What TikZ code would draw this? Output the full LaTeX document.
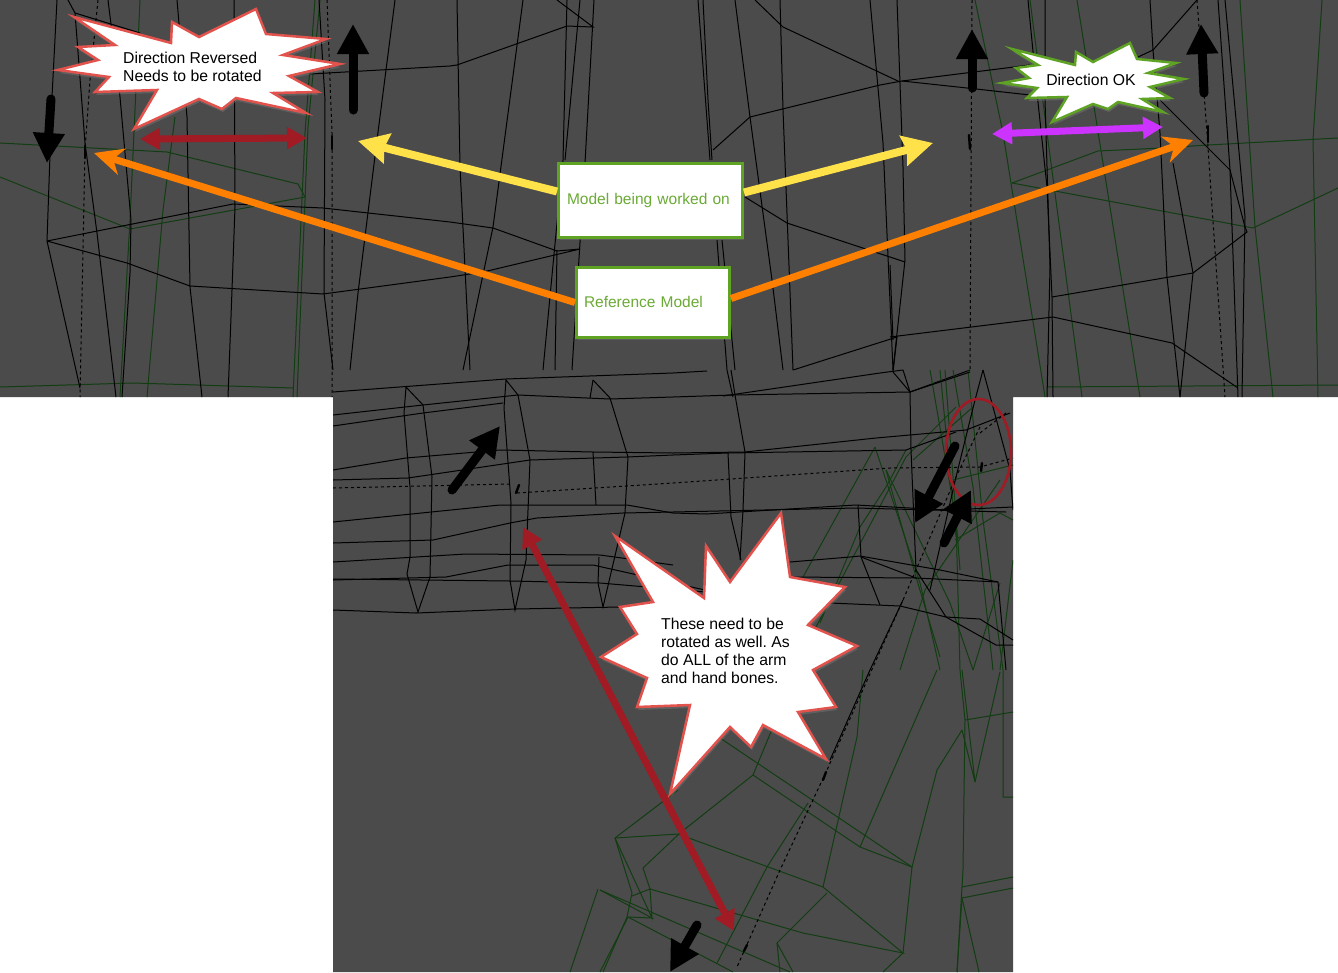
\documentclass[tikz,border=0pt]{standalone}
\usepackage{fontspec}
\setmainfont{Liberation Sans}
\usepackage{tikz}
\usetikzlibrary{arrows.meta,positioning,shapes.geometric,shadows}
\definecolor{panelgray}{HTML}{4B4B4B}
\definecolor{wiregreen}{HTML}{123D12}
\definecolor{boxgreen}{HTML}{5FA324}
\definecolor{textgreen}{HTML}{6BAA35}
\definecolor{burstred}{HTML}{E2534D}
\definecolor{darkred}{HTML}{A11B24}
\definecolor{yellowarr}{HTML}{FFE14A}
\definecolor{orangearr}{HTML}{FF8000}
\definecolor{purplearr}{HTML}{CC33FF}
\frenchspacing
\begin{document}
\begin{tikzpicture}[
  x=1pt,y=-1pt,
  font=\fontsize{15.75}{18}\selectfont,
  wire/.style={black,line width=1pt},
  wireg/.style={wiregreen,line width=1pt},
  wired/.style={black,line width=1pt,dash pattern=on 3pt off 3pt},
  bonemark/.style={black,line width=2.4pt,line cap=round},
  label/.style={rectangle,draw=boxgreen,fill=white,line width=3pt,text=textgreen,align=left,inner sep=0pt,font=\fontsize{15.5}{18}\selectfont,drop shadow={opacity=.35,shadow xshift=1pt,shadow yshift=-2pt}},
  burst/.style={draw=burstred,fill=white,line width=2.5pt,line join=miter,drop shadow={opacity=.4,shadow xshift=1pt,shadow yshift=-3pt}},
  burstok/.style={burst,draw=boxgreen},
  bursttext/.style={align=left,inner sep=0pt,text=black},
  up/.style={black,line width=9pt,line cap=round,-{Triangle[length=30pt,width=30pt]}},
  twoway/.style={line width=7pt,{Triangle[length=20pt,width=21pt]}-{Triangle[length=20pt,width=21pt]}},
  yarrow/.style={yellowarr,line width=8pt,-{Stealth[length=30pt,width=30pt,inset=3pt]}},
  oarrow/.style={orangearr,line width=7pt,-{Stealth[length=29pt,width=27pt,inset=9pt]}}
]
\useasboundingbox (0,0) rectangle (1338,972);
\fill[white] (0,0) rectangle (1338,972);
\fill[panelgray] (0,0) -- (1338,0) -- (1338,397) -- (1013,397) -- (1013,972) -- (333,972) -- (333,397) -- (0,397) -- cycle;
\begin{scope}
\clip (0,0) -- (1338,0) -- (1338,397) -- (1013,397) -- (1013,972) -- (333,972) -- (333,397) -- (0,397) -- cycle;
% top left
\draw[wireg] (140,0) -- (130,220) -- (120,397);
\draw[wireg] (175,117) -- (163,210) -- (147,397);
\draw[wireg] (315,0) -- (305,133) -- (293,397);
\draw[wireg] (320,0) -- (308,127) -- (297,397);
\draw[wireg] (0,143) -- (167,152) -- (298,184) -- (305,197) -- (130,229) -- (0,177);
\draw[wireg] (0,387) -- (133,383) -- (293,388);
\draw[wire] (57,0) -- (52,97) -- (47,241) -- (80,388);
\draw[wire] (68,0) -- (75,13) -- (85,143) -- (97,233) -- (116,397);
\draw[wire] (75,13) -- (140,33);
\draw[wired] (98,0) -- (90,80) -- (85,150) -- (80,397);
\draw[wire] (108,0) -- (120,97) -- (131,220) -- (130,273) -- (122,397);
\draw[wire] (177,0) -- (187,117) -- (190,287) -- (202,397);
\draw[wire] (234,0) -- (235,207) -- (232,290) -- (228,397);
\draw[wire] (319,0) -- (325,100) -- (324,293) -- (333,370);
\draw[wired] (327,0) -- (332,133) -- (332,397);
\draw[wire] (395,0) -- (377,140) -- (358,293) -- (350,370);
\draw[wire] (47,241) -- (233,204) -- (323,208) -- (450,222) -- (493,228) -- (557,251) -- (580,249) -- (483,272) -- (450,277) -- (323,294) -- (190,286) -- (127,263) -- (47,241);
\draw[wire] (310,74) -- (450,66) -- (457,65) -- (567,26) -- (593,27) -- (557,0);
% top middle
\draw[wire] (457,0) -- (460,167) -- (470,370);
\draw[wire] (523,0) -- (493,227) -- (463,370);
\draw[wire] (567,0) -- (563,160) -- (543,370);
\draw[wire] (580,0) -- (565,160);
\draw[wire] (594,0) -- (585,163) -- (572,370);
\draw[wire] (557,250) -- (555,370);
\draw[wire] (698,0) -- (710,160);
\draw[wire] (703,0) -- (708,100) -- (712,160);
\draw[wire] (735,0) -- (750,117) -- (772,280) -- (783,370);
\draw[wire] (780,0) -- (783,110) -- (793,370);
\draw[wire] (755,0) -- (783,27) -- (900,82);
\draw[wire] (713,150) -- (750,117) -- (880,85) -- (902,81);
\draw[wire] (745,197) -- (787,223) -- (890,257) -- (905,262);
\draw[wire] (717,240) -- (727,370) -- (733,397);
\draw[wire] (722,240) -- (735,370);
\draw[wire] (870,0) -- (883,143) -- (893,370);
\draw[wire] (793,370) -- (897,337) -- (893,372) -- (910,392) -- (970,370);
% top right
\draw[wireg] (975,0) -- (1003,133) -- (1045,397);
\draw[wireg] (1030,0) -- (1047,133) -- (1082,397);
\draw[wireg] (1077,0) -- (1110,207) -- (1140,397);
\draw[wireg] (1240,0) -- (1255,227) -- (1273,397);
\draw[wireg] (1322,0) -- (1313,140) -- (1318,397);
\draw[wireg] (1012,183) -- (1098,151) -- (1162,148) -- (1208,145) -- (1338,138);
\draw[wireg] (1012,183) -- (1253,228) -- (1338,188);
\draw[wireg] (1047,387) -- (1338,385);
\draw[wire] (897,0) -- (903,167) -- (905,260) -- (893,370);
\draw[wire] (902,81) -- (1030,65);
\draw[wire] (902,81) -- (967,88) -- (1030,95);
\draw[wire] (890,265) -- (893,340);
\draw[wired] (972,0) -- (970,370);
\draw[wire] (1028,0) -- (1037,93) -- (1047,187) -- (1052,297) -- (1053,397);
\draw[wire] (1045,0) -- (1045,100) -- (1050,267) -- (1047,397);
\draw[wire] (1150,0) -- (1153,50) -- (1160,133) -- (1167,277) -- (1180,397);
\draw[wire] (1197,0) -- (1153,50) -- (1138,57);
\draw[wire] (1160,100) -- (1230,170) -- (1245,227) -- (1247,232) -- (1193,273) -- (1052,297);
\draw[wire] (1173,163) -- (1193,273) -- (1180,397);
\draw[wire] (1218,0) -- (1230,170) -- (1238,397);
\draw[wire] (1225,0) -- (1245,217) -- (1242,397);
\draw[wired] (1197,0) -- (1207,133) -- (1225,397);
\draw[wire] (890,337) -- (1053,317) -- (1172,343) -- (1238,388);
% bottom greens
\draw[wireg] (875,447) -- (803,577);
\draw[wireg] (875,447) -- (920,583) -- (940,670);
\draw[wireg] (930,370) -- (956,520) -- (960,670) -- (965,720) -- (963,870) -- (957,972);
\draw[wireg] (940,370) -- (956,537);
\draw[wireg] (945,370) -- (960,570);
\draw[wireg] (953,370) -- (973,487) -- (993,670);
\draw[wireg] (968,370) -- (983,520) -- (1003,670) -- (1003,797) -- (1013,797);
\draw[wireg] (816,627) -- (906,457) -- (956,407);
\draw[wireg] (886,470) -- (916,577) -- (940,657);
\draw[wireg] (886,470) -- (950,603) -- (973,670);
\draw[wireg] (906,450) -- (886,487) -- (860,527) -- (820,623);
\draw[wireg] (913,460) -- (973,407);
\draw[wireg] (953,480) -- (1013,465);
\draw[wireg] (1000,583) -- (973,670);
\draw[wireg] (900,670) -- (925,590) -- (1000,480);
\draw[wireg] (955,540) -- (1000,513) -- (1013,520);
\draw[wireg] (1013,560) -- (1000,670);
\draw[wireg] (615,838) -- (678,790);
\draw[wireg] (615,838) -- (678,834) -- (823,887) -- (903,953) -- (803,933) -- (650,889) -- (643,868);
\draw[wireg] (720,738) -- (912,867) -- (903,953) -- (883,972);
\draw[wireg] (643,868) -- (680,833) -- (753,775) -- (773,727);
\draw[wireg] (753,775) -- (860,847) -- (912,867) -- (937,770) -- (962,730);
\draw[wireg] (823,887) -- (857,737) -- (863,670);
\draw[wireg] (860,847) -- (937,670);
\draw[wireg] (827,893) -- (777,943) -- (793,972);
\draw[wireg] (808,803) -- (767,867) -- (717,963);
\draw[wireg] (777,943) -- (780,972);
\draw[wireg] (598,889) -- (570,972);
\draw[wireg] (600,890) -- (790,972);
\draw[wireg] (600,890) -- (652,918) -- (628,917) -- (600,972);
\draw[wireg] (628,917) -- (733,972);
\draw[wireg] (615,838) -- (632,893) -- (627,917) -- (603,972);
\draw[wireg] (615,838) -- (652,918) -- (650,889) -- (632,896);
\draw[wireg] (962,887) -- (1013,877);
\draw[wireg] (962,898) -- (1013,888);
\draw[wireg] (965,720) -- (1013,712);
\draw[wireg] (962,730) -- (975,782) -- (962,670);
\draw[wireg] (975,782) -- (1000,672);
\draw[wireg] (957,972) -- (962,898) -- (979,972);
% bottom blacks
\draw[wire] (333,392) -- (506,379) -- (673,373) -- (707,371);
\draw[wire] (333,415) -- (423,405) -- (518,395) -- (610,399) -- (673,397) -- (733,395) -- (910,392) -- (970,372);
\draw[wire] (723,396) -- (880,373) -- (903,370);
\draw[wire] (333,426) -- (423,413) -- (503,403);
\draw[wire] (333,470) -- (406,458) -- (500,450) -- (593,452) -- (673,453) -- (745,452) -- (876,438) -- (966,430) -- (1010,413);
\draw[wire] (333,480) -- (408,478) -- (530,460) -- (627,457) -- (673,455) -- (728,453) -- (906,450) -- (956,432);
\draw[wired] (333,488) -- (510,484);
\draw[wired] (517,493) -- (673,483) -- (890,468) -- (980,467) -- (1013,458);
\draw[wired] (980,433) -- (1006,413);
\draw[wire] (333,522) -- (500,505) -- (627,505) -- (673,513) -- (706,514) -- (856,505) -- (946,510) -- (1013,507);
\draw[wire] (333,543) -- (433,540) -- (510,523) -- (537,518) -- (623,513) -- (673,512) -- (856,508) -- (1006,512);
\draw[wire] (333,562) -- (466,554) -- (600,555) -- (673,565);
\draw[wire] (333,580) -- (446,577) -- (508,565) -- (593,565) -- (705,590);
\draw[wire] (333,579) -- (510,581) -- (600,583) -- (705,592);
\draw[wire] (333,610) -- (416,613) -- (516,609) -- (620,607);
\draw[wire] (790,562) -- (850,557) -- (860,556) -- (940,570) -- (998,582);
\draw[wire] (790,577) -- (916,578) -- (998,582);
\draw[wire] (830,603) -- (900,606) -- (946,617) -- (980,619) -- (1013,640);
\draw[wire] (406,387) -- (404,413) -- (410,487) -- (410,557) -- (407,574) -- (418,612) -- (430,577) -- (432,477) -- (423,405) -- cycle;
\draw[wire] (506,380) -- (504,408) -- (511,503) -- (510,580) -- (515,610) -- (526,560) -- (530,460) -- (518,395) -- cycle;
\draw[wire] (593,380) -- (590,398);
\draw[wire] (593,380) -- (610,398) -- (628,457) -- (625,513) -- (603,607) -- (598,583) -- (599,557);
\draw[wire] (593,452) -- (596,505);
\draw[wire] (731,370) -- (735,395) -- (745,452) -- (743,510) -- (740,560);
\draw[wire] (728,453) -- (731,517) -- (741,560);
\draw[wire] (858,505) -- (861,557) -- (880,605);
\draw[wire] (861,557) -- (916,578);
\draw[wire] (903,370) -- (910,392) -- (911,450) -- (916,570) -- (946,617) -- (996,645) -- (1013,645);
\draw[wire] (983,370) -- (975,400) -- (956,477) -- (930,590);
\draw[wire] (983,370) -- (1010,470) -- (1013,510);
\draw[wire] (998,582) -- (1006,670);
\draw[wired] (980,427) -- (956,477) -- (903,600) -- (827,770) -- (780,870) -- (737,967);
\draw[wire] (903,600) -- (870,670) -- (830,760);
\end{scope}
\draw[bonemark] (85,146) -- (85,158);
\draw[bonemark] (332,136) -- (332,149);
\draw[bonemark] (969,135) -- (970,149);
\draw[bonemark] (1208,126) -- (1208,142);
\draw[bonemark] (519,485) -- (516,493);
\draw[bonemark] (982,463) -- (981,471);
\draw[bonemark] (826,772) -- (823,780);
\draw[bonemark] (747,945) -- (744,951);
\node[draw=darkred,line width=2.6pt,ellipse,minimum width=65pt,minimum height=106pt,inner sep=0pt] (ring) at (978.5,452) {};
\draw[burst] (74,17) -- (115,45) -- (78,47) -- (98,60) -- (58,70) -- (109,77) -- (95,92) -- (157,90) -- (134,129) -- (199,99) -- (222,109) -- (236,98) -- (306,113) -- (273,93) -- (318,92) -- (289,76) -- (340,64) -- (283,55) -- (326,39) -- (266,34) -- (256,9) -- (199,37) -- (172,22) -- (171,43) -- cycle;
\draw[burstok] (1012,49) -- (1038,65) -- (1016,68) -- (1029,78) -- (1002,83) -- (1037,88) -- (1027,98) -- (1067,97) -- (1052,122) -- (1093,104) -- (1108,109) -- (1118,102) -- (1163,112) -- (1142,99) -- (1170,98) -- (1150,87) -- (1184,79) -- (1148,73) -- (1176,63) -- (1137,59) -- (1130,43) -- (1093,62) -- (1076,52) -- (1075,65) -- cycle;
\draw[burst] (615,536) -- (704,598) -- (706,546) -- (730,582) -- (781,513) -- (790,577) -- (845,587) -- (808,625) -- (857,646) -- (813,670) -- (836,707) -- (798,712) -- (826,759) -- (763,725) -- (751,747) -- (730,727) -- (670,794) -- (690,705) -- (637,707) -- (647,678) -- (601,657) -- (637,634) -- (620,607) -- (653,602) -- cycle;
\node[bursttext,anchor=west] (revtext) at (123,67) {Direction Reversed\\Needs to be rotated};
\node[bursttext] (oktext) at (1091,80) {Direction OK};
\node[bursttext,anchor=west] (moretext) at (661,650.5) {These need to be\\rotated as well. As\\do ALL of the arm\\and hand bones.};
\node[label,minimum height=74pt,text width=184pt] (model) at (650.5,200.5) {\hspace*{8.5pt}\raisebox{-1pt}{Model being worked on}};
\node[label,minimum height=70pt,text width=153pt,below=27pt of model,xshift=2.5pt] (refmodel) {\hspace*{7.5pt}\raisebox{1pt}{Reference Model}};
\coordinate (yleft) at (358,141);
\coordinate (yright) at (933,143);
\coordinate (oleft) at (94,153);
\coordinate (oright) at (1193,140);
\coordinate (revl) at (140,139);
\coordinate (revr) at (307,138);
\coordinate (okl) at (992,134);
\coordinate (okr) at (1163,127);
\coordinate (moreu) at (523,527);
\coordinate (mored) at (734,931);
\coordinate (ba1) at (51,99);
\coordinate (ba2) at (47,163);
\coordinate (bb1) at (353,110);
\coordinate (bb2) at (353,24);
\coordinate (bc1) at (972,88);
\coordinate (bc2) at (972,29);
\coordinate (bd1) at (1204,93);
\coordinate (bd2) at (1201,24);
\coordinate (be1) at (452,490);
\coordinate (be2) at (500,426);
\coordinate (bf1) at (955,446);
\coordinate (bf2) at (915,523);
\coordinate (bg1) at (944,543);
\coordinate (bg2) at (971,490);
\coordinate (bh1) at (697,925);
\coordinate (bh2) at (670,972);
\draw[up] (ba1) -- (ba2);
\draw[up] (bb1) -- (bb2);
\draw[up] (bc1) -- (bc2);
\draw[up] (bd1) -- (bd2);
\draw[up] (be1) -- (be2);
\draw[up] (bf1) -- (bf2);
\draw[up] (bg1) -- (bg2);
\draw[up] (bh1) -- (bh2);
\draw[twoway,darkred] (revl) -- (revr);
\draw[twoway,purplearr] (okl) -- (okr);
\draw[twoway,darkred] (moreu) -- (mored);
\draw[yarrow] ([yshift=9pt]model.west) -- (yleft);
\draw[yarrow] ([yshift=8pt]model.east) -- (yright);
\draw[oarrow] (refmodel.west) -- (oleft);
\draw[oarrow] ([yshift=4pt]refmodel.east) -- (oright);
\end{tikzpicture}
\end{document}
